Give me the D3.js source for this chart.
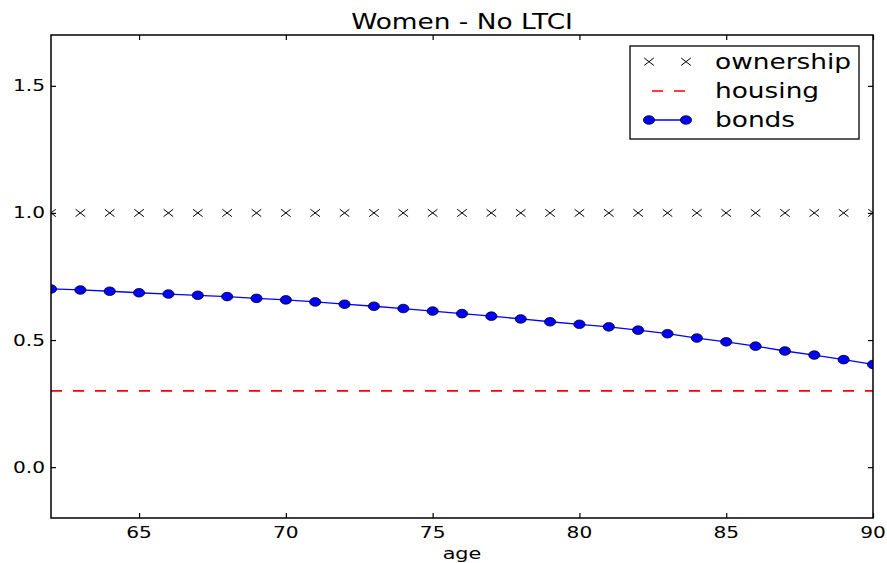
<!DOCTYPE html>
<html>
<head>
<meta charset="utf-8">
<script src="https://cdnjs.cloudflare.com/ajax/libs/d3/7.8.5/d3.min.js"></script>
<style>
  body { margin: 0; background: #fff; }
  text { font-family: "DejaVu Sans", sans-serif; fill: #000; }
</style>
</head>
<body>
<svg id="chart" width="887" height="563"></svg>
<script>
// data
var ages = d3.range(62, 91);
var bonds = [0.701, 0.697, 0.692, 0.686, 0.681, 0.676, 0.671, 0.664, 0.658, 0.650,
             0.641, 0.633, 0.624, 0.614, 0.604, 0.594, 0.583, 0.572, 0.562, 0.552,
             0.539, 0.525, 0.508, 0.493, 0.476, 0.457, 0.441, 0.423, 0.404];
var ownership = ages.map(function() { return 1.0; });
var housing = [0.3, 0.3];
var xTicks = [65, 70, 75, 80, 85, 90];
var yTicks = [0.0, 0.5, 1.0, 1.5];
var legendLabels = ['ownership', 'housing', 'bonds'];

// the original is stretched sideways, so text and markers are too
var sx = 1.3;

var margin = { top: 35, right: 14, bottom: 45, left: 51 },
    width = 887 - margin.left - margin.right,
    height = 563 - margin.top - margin.bottom;

var svg = d3.select('#chart');
var g = svg.append('g')
    .attr('transform', 'translate(' + margin.left + ',' + margin.top + ')');

var x = d3.scaleLinear().domain([62, 90]).range([0, width]);
var y = d3.scaleLinear().domain([-0.2, 1.7]).range([height, 0]);

g.append('clipPath').attr('id', 'clip')
    .append('rect').attr('width', width).attr('height', height);

var plot = g.append('g').attr('clip-path', 'url(#clip)');

// housing - red dashed line
plot.append('line')
    .attr('x1', x(62)).attr('x2', x(90))
    .attr('y1', y(housing[0])).attr('y2', y(housing[1]))
    .attr('stroke', '#ff0000')
    .attr('stroke-width', 1.6)
    .attr('stroke-dasharray', '11,11');

// bonds - blue line with circles
var line = d3.line()
    .x(function(d, i) { return x(ages[i]); })
    .y(function(d) { return y(d); });

plot.append('path')
    .datum(bonds)
    .attr('d', line)
    .attr('fill', 'none')
    .attr('stroke', '#0000ff')
    .attr('stroke-width', 1.3);

plot.selectAll('.bond')
    .data(bonds)
    .enter().append('ellipse')
    .attr('class', 'bond')
    .attr('cx', function(d, i) { return x(ages[i]); })
    .attr('cy', function(d) { return y(d); })
    .attr('rx', 5.6)
    .attr('ry', 4.3)
    .attr('fill', '#0000ff')
    .attr('stroke', '#000')
    .attr('stroke-width', 0.8);

// ownership - x markers
function cross(cx, cy) {
    var a = 4.8, b = 3.7;
    return 'M' + (cx - a) + ',' + (cy - b) + 'L' + (cx + a) + ',' + (cy + b) +
           'M' + (cx - a) + ',' + (cy + b) + 'L' + (cx + a) + ',' + (cy - b);
}

plot.selectAll('.own')
    .data(ownership)
    .enter().append('path')
    .attr('class', 'own')
    .attr('d', function(d, i) { return cross(x(ages[i]), y(d)); })
    .attr('stroke', '#000')
    .attr('stroke-width', 1);

// axes: ticks inside on all four sides
function tickLabels(sel) {
    sel.selectAll('text').remove();
}
var tl = 5;
g.append('g').attr('transform', 'translate(0,' + height + ')')
    .call(d3.axisBottom(x).tickValues(xTicks).tickSizeInner(-tl).tickSizeOuter(0)).call(tickLabels);
g.append('g')
    .call(d3.axisTop(x).tickValues(xTicks).tickSizeInner(-tl).tickSizeOuter(0)).call(tickLabels);
g.append('g')
    .call(d3.axisLeft(y).tickValues(yTicks).tickSizeInner(-tl).tickSizeOuter(0)).call(tickLabels);
g.append('g').attr('transform', 'translate(' + width + ',0)')
    .call(d3.axisRight(y).tickValues(yTicks).tickSizeInner(-tl).tickSizeOuter(0)).call(tickLabels);

g.selectAll('.domain').remove();
g.selectAll('.tick line').attr('stroke', '#000').attr('stroke-width', 1.2);

g.append('rect')
    .attr('width', width).attr('height', height)
    .attr('fill', 'none')
    .attr('stroke', '#000')
    .attr('stroke-width', 1.5);

// tick labels, stretched like the original
g.selectAll('.xlab')
    .data(xTicks)
    .enter().append('text')
    .attr('transform', function(d) { return 'translate(' + x(d) + ',' + (height + 19.5) + ') scale(' + sx + ',1)'; })
    .attr('text-anchor', 'middle')
    .style('font-size', '15.5px')
    .text(function(d) { return d; });

g.selectAll('.ylab')
    .data(yTicks)
    .enter().append('text')
    .attr('transform', function(d) { return 'translate(-6,' + (y(d) + 5.5) + ') scale(' + sx + ',1)'; })
    .attr('text-anchor', 'end')
    .style('font-size', '15.5px')
    .text(function(d) { return d.toFixed(1); });

// title and axis label
svg.append('text')
    .attr('transform', 'translate(' + (margin.left + width / 2) + ',28.5) scale(' + sx + ',1)')
    .attr('text-anchor', 'middle')
    .style('font-size', '20.3px')
    .text('Women - No LTCI');

svg.append('text')
    .attr('transform', 'translate(' + (margin.left + width / 2) + ',559) scale(' + sx + ',1)')
    .attr('text-anchor', 'middle')
    .style('font-size', '16px')
    .text('age');

// legend
var lg = svg.append('g').attr('transform', 'translate(630,46)');
lg.append('rect')
    .attr('width', 229).attr('height', 93)
    .attr('fill', '#fff')
    .attr('stroke', '#000')
    .attr('stroke-width', 1.3);

var rowY = [15.7, 45, 74];
var s0 = 19, s1 = 56;

lg.append('path').attr('d', cross(s0, rowY[0]) + cross(s1, rowY[0]))
    .attr('stroke', '#000').attr('stroke-width', 1);

lg.append('line')
    .attr('x1', s0 - 4).attr('x2', s1 + 4)
    .attr('y1', rowY[1]).attr('y2', rowY[1])
    .attr('stroke', '#ff0000').attr('stroke-width', 1.6)
    .attr('stroke-dasharray', '11,11').attr('stroke-dashoffset', -7);

lg.append('line')
    .attr('x1', s0).attr('x2', s1)
    .attr('y1', rowY[2]).attr('y2', rowY[2])
    .attr('stroke', '#0000ff').attr('stroke-width', 1.3);
lg.selectAll('.lm')
    .data([s0, s1])
    .enter().append('ellipse')
    .attr('cx', function(d) { return d; })
    .attr('cy', rowY[2])
    .attr('rx', 5.6).attr('ry', 4.3)
    .attr('fill', '#0000ff').attr('stroke', '#000').attr('stroke-width', 0.8);

lg.selectAll('.lt')
    .data(legendLabels)
    .enter().append('text')
    .attr('transform', function(d, i) { return 'translate(85,' + (rowY[i] + 6.8) + ') scale(' + sx + ',1)'; })
    .style('font-size', '20.3px')
    .text(function(d) { return d; });
</script>
</body>
</html>
